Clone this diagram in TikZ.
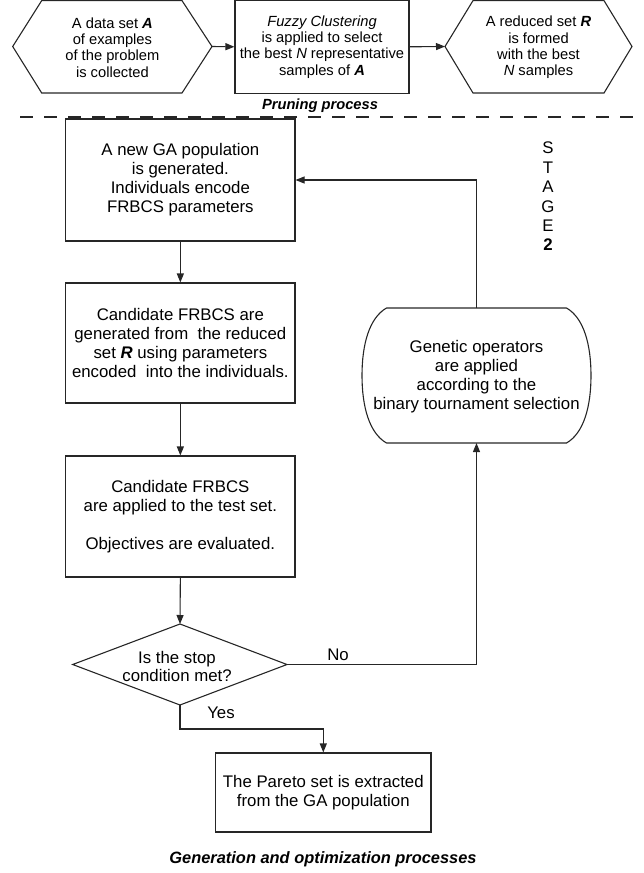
\documentclass[tikz,border=0pt]{standalone}
\usepackage{fontspec}
\setmainfont{Liberation Sans}
\usetikzlibrary{arrows.meta}
\tikzset{
  ln/.style={line width=1.1pt, draw=black!85},
  arr/.style={ln, -{Triangle[length=9pt,width=7pt]}},
  bigtxt/.style={font=\fontsize{16.8}{19}\selectfont, align=center, inner sep=0pt},
  smalltxt/.style={font=\fontsize{14.7}{16.3}\selectfont, align=center, inner sep=0pt},
  lowbox/.style={bigtxt, draw=black!85, line width=1.1pt, minimum width=229.3pt},
  topbox/.style={smalltxt, draw=black!85, line width=1.1pt, minimum width=174pt, minimum height=92.5pt},
  ttl/.style={font=\fontsize{14.7}{16}\selectfont\bfseries\itshape, inner sep=0pt}
}
\newcommand{\bitx}[1]{\textbf{\textit{#1}}}
\begin{document}
\begin{tikzpicture}[x=1pt,y=-1pt]
\useasboundingbox (0,0) rectangle (644,873);

% ---- top row ----
\coordinate (h1w) at (12.7,46.5);
\coordinate (h1e) at (212,46.5);
\draw[ln] (h1w) -- (41.7,0.6) -- (182,0.6) -- (h1e) -- (182,93) -- (41.7,93) -- cycle;
\node[smalltxt] (h1) at (112.4,47.5) {A data set \bitx{A}\\of examples\\of the problem\\is collected};

\node[topbox] (b2) at (322,46.8) {\textit{Fuzzy Clustering}\\is applied to select\\the best \textit{N} representative\\samples of \bitx{A}};

\coordinate (h3w) at (445,46.5);
\coordinate (h3e) at (632,46.5);
\draw[ln] (h3w) -- (473,0.6) -- (604,0.6) -- (h3e) -- (604,93) -- (473,93) -- cycle;
\node[smalltxt] (h3) at (538.5,47.5) {A reduced set \bitx{R}\\is formed\\with the best\\\textit{N} samples};

\draw[arr] (h1e) -- (b2.west);
\draw[arr] (b2.east) -- (h3w);

\node[ttl] (prun) at (320,106) {Pruning process};

\coordinate (dL) at (20,117);
\coordinate (dR) at (644,117);
\draw[ln, dash pattern=on 13pt off 11pt] (dL) -- (dR);

% ---- stage 2 ----
\node[lowbox, minimum height=122pt] (ga) at (180.35,180) {A new GA population\\is generated.\\Individuals encode\\FRBCS parameters};
\node[lowbox, minimum height=120pt] (cg) at (180.35,343) {Candidate FRBCS are\\generated from\ \ the reduced\\set \bitx{R} using parameters\\encoded\ \ into the individuals.};
\node[lowbox, minimum height=121pt] (ev) at (180.35,516.5) {Candidate FRBCS\\are applied to the test set.\\[19pt]Objectives are evaluated.};

% diamond
\coordinate (dt) at (180,624);
\coordinate (dl) at (72.7,664.5);
\coordinate (dr) at (287,664.5);
\coordinate (db) at (180,705);
\draw[ln] (dt) -- (dr) -- (db) -- (dl) -- cycle;
\node[bigtxt, font=\fontsize{16.8}{18}\selectfont] (dia) at (177,666) {Is the stop\\condition met?};

% genetic operators
\coordinate (gn) at (476.5,308);
\coordinate (gs) at (476.5,443);
\draw[ln] (386.5,308) -- (566.5,308) .. controls (584,318) and (591,345) .. (591,375.5)
  .. controls (591,406) and (584,433) .. (566.5,443) -- (386.5,443)
  .. controls (369,433) and (362,406) .. (362,375.5)
  .. controls (362,345) and (369,318) .. (386.5,308) -- cycle;
\node[bigtxt] (gen) at (476.5,376.5) {Genetic operators\\are applied\\according to the\\binary tournament selection};

% pareto
\node[lowbox, minimum width=215.3pt, minimum height=79pt] (pa) at (323.3,792.5) {The Pareto set is extracted\\from the GA population};

% stage label
\node[font=\fontsize{16.8}{19.4}\selectfont, align=center, inner sep=0pt] (stg) at (548,196.5) {S\\T\\A\\G\\E\\\textbf{2}};

% connectors
\draw[arr] (ga.south) -- (cg.north);
\draw[arr] (cg.south) -- (ev.north);
\draw[arr] (ev.south) -- (dt);
\draw[arr] (dr) -| (gs);
\draw[arr] (gn) |- (ga.east);
\coordinate (yk) at (180,729);
\draw[arr] (db) -- (yk) -| (pa.north);

\node[bigtxt] (no) at (338,655) {No};
\node[bigtxt] (yes) at (221,713) {Yes};

\node[ttl, font=\fontsize{16.4}{18}\selectfont\bfseries\itshape] (gtitle) at (323,859) {Generation and optimization processes};
\end{tikzpicture}
\end{document}
